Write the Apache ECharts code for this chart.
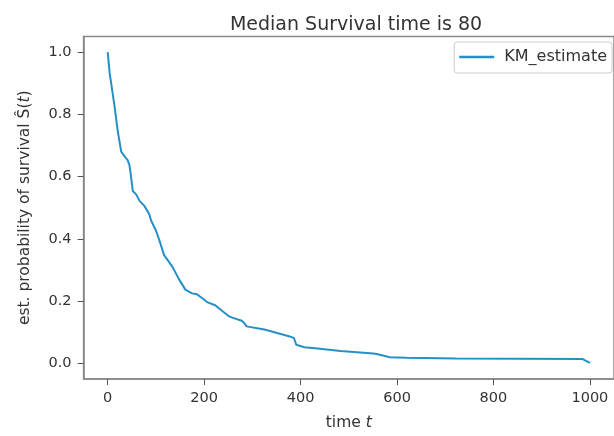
<!DOCTYPE html>
<html>
<head>
<meta charset="utf-8">
<script src="https://cdn.jsdelivr.net/npm/echarts@6/dist/echarts.min.js"></script>
<style>html,body{margin:0;padding:0;background:#fff}#c{width:614px;height:436px}</style>
</head>
<body>
<div id="c"></div>
<script>
const times = [0,4,10,14,21,28,35,41,45,47,52,59,66,76,86,90,100,107,110,117,120,134,138,148,161,165,175,185,199,206,223,237,250,257,278,284,288,325,374,386,391,408,435,483,551,558,579,585,620,723,985,1000];
const survival = [1.0,0.933,0.87,0.828,0.744,0.68,0.665,0.654,0.638,0.617,0.554,0.543,0.522,0.506,0.48,0.459,0.427,0.396,0.39,0.348,0.343,0.311,0.305,0.27,0.237,0.232,0.225,0.222,0.206,0.197,0.187,0.169,0.153,0.148,0.137,0.128,0.119,0.109,0.088,0.082,0.06,0.052,0.048,0.04,0.032,0.03,0.022,0.02,0.018,0.016,0.014,0.002];
const xTicks = [0,200,400,600,800,1000];
const yTicks = [0,0.2,0.4,0.6,0.8,1.0];
const seriesName = 'KM_estimate';
const titleText = 'Median Survival time is 80';

const chart = echarts.init(document.getElementById('c'), null, {renderer:'canvas'});
const font = 'DejaVu Sans';
const axisCol = '#888';
const txt = '#333';
chart.setOption({
  animation:false,
  backgroundColor:'#fff',
  textStyle:{fontFamily:font},
  title:{text:titleText, left:351, textAlign:'center', top:11,
    textStyle:{fontFamily:font, fontSize:19, fontWeight:'normal', color:txt}},
  legend:{data:[seriesName], right:2, top:42, icon:'rect', itemWidth:35, itemHeight:2.5, itemGap:10,
    borderColor:'#ccc', borderWidth:1, borderRadius:3, padding:[7,5,8,5], backgroundColor:'#fff',
    formatter:n=>' '+n,
    textStyle:{fontFamily:font, fontSize:16, color:txt}},
  grid:{left:83.6, right:-5.35, top:36.5, bottom:52, show:true, borderColor:axisCol, borderWidth:1.5},
  xAxis:{type:'value', min:-50, max:1050,
    name:'time {i|t}', nameLocation:'middle', nameGap:36,
    nameTextStyle:{fontFamily:font, fontSize:15.5, color:txt, rich:{i:{fontStyle:'italic', fontFamily:font, fontSize:15.5, color:txt}}},
    axisLine:{show:true, onZero:false, lineStyle:{color:axisCol, width:1.5}},
    axisTick:{show:true, length:6, customValues:xTicks, lineStyle:{color:'#555'}},
    axisLabel:{customValues:xTicks, margin:12, fontFamily:font, fontSize:14.5, color:txt, formatter:v=>String(v)},
    splitLine:{show:false}},
  yAxis:{type:'value', min:-0.05, max:1.05,
    name:'est. probability of survival Ŝ({i|t})', nameLocation:'middle', nameGap:51,
    nameTextStyle:{fontFamily:font, fontSize:15.5, color:txt, rich:{i:{fontStyle:'italic', fontFamily:font, fontSize:15.5, color:txt}}},
    axisLine:{show:true, onZero:false, lineStyle:{color:axisCol, width:1.5}},
    axisTick:{show:true, length:6, customValues:yTicks, lineStyle:{color:'#555'}},
    axisLabel:{customValues:yTicks, margin:12, fontFamily:font, fontSize:14.5, color:txt,
      formatter:v=>v.toFixed(1)},
    splitLine:{show:false}},
  series:[{name:seriesName, type:'line', showSymbol:false, symbol:'none',
    data:times.map((t,i)=>[t,survival[i]]),
    color:'#2590c8', lineStyle:{color:'#2590c8', width:2}}]
});
</script>
</body>
</html>
